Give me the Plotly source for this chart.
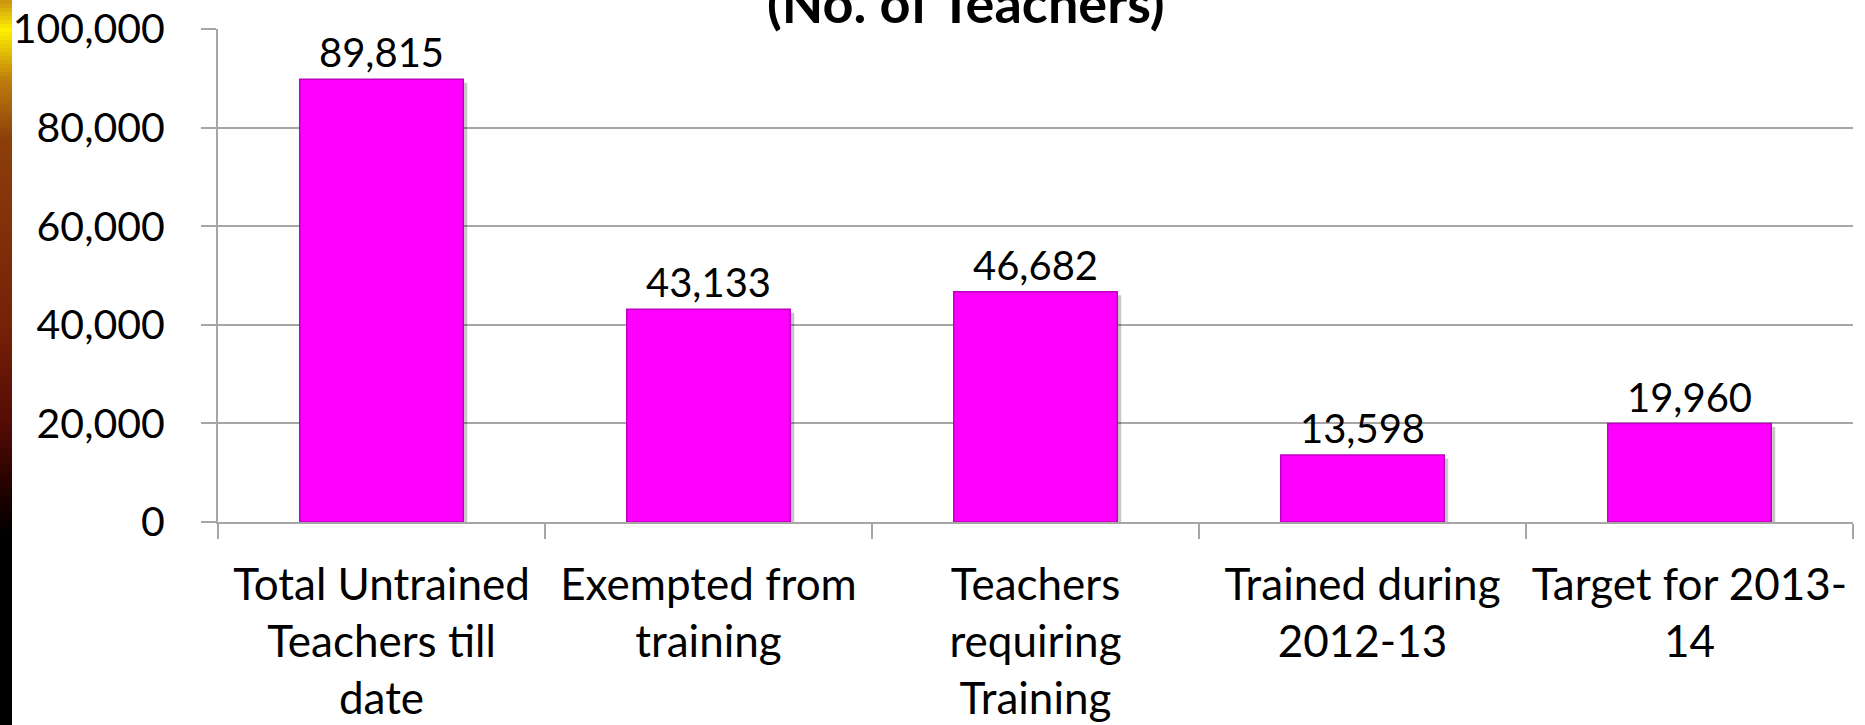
import plotly.graph_objects as go

# ---- data ----
categories = [
    "Total Untrained<br>Teachers till<br>date",
    "Exempted from<br>training",
    "Teachers<br>requiring<br>Training",
    "Trained during<br>2012-13",
    "Target for 2013-<br>14",
]
values = [89815, 43133, 46682, 13598, 19960]
y_tick_values = [0, 20000, 40000, 60000, 80000, 100000]
y_tick_labels = ["0", "20,000", "40,000", "60,000", "80,000", "100,000"]
title_text = "(No. of Teachers)"

# ---- style ----
W, H = 1865, 725
ML, MR, MT, MB = 218, 12, 29, 203
FONT = "Lato"
GRID = "#A6A6A6"

pw = W - ML - MR
ph = H - MT - MB
def px2x(px):
    return (px - ML) / pw
def py2y(py):
    return (H - MB - py) / ph

fig = go.Figure()
# soft drop shadow behind the bars (same values, nudged right/down)
fig.add_trace(go.Bar(
    x=categories, y=values, base=-700,
    width=0.5, offset=-0.25 + 4 / (pw / 5),
    marker=dict(color="rgba(0,0,0,0.22)", line=dict(width=0)),
    hoverinfo="skip",
))
fig.add_trace(go.Bar(
    x=categories, y=values,
    width=0.5, offset=-0.25,
    marker=dict(color="#FF00FF", line=dict(color="#C000C0", width=1.5)),
    texttemplate="%{y:,}", textposition="outside",
    textfont=dict(family=FONT, size=40, color="black"),
    cliponaxis=False,
    hoverinfo="skip",
))

# left decorative gradient strip
stops = [
    (0, (200, 144, 16)), (30, (255, 240, 0)), (80, (190, 125, 12)),
    (140, (140, 62, 10)), (330, (118, 32, 8)), (430, (80, 10, 4)),
    (480, (40, 3, 0)), (535, (0, 0, 0)), (725, (0, 0, 0)),
]
def col_at(py):
    for (a, ca), (b, cb) in zip(stops[:-1], stops[1:]):
        if a <= py <= b:
            t = (py - a) / (b - a) if b > a else 0
            return "rgb(%d,%d,%d)" % tuple(round(ca[i] + (cb[i] - ca[i]) * t) for i in range(3))
    return "rgb(0,0,0)"

shapes = []
step = 4
for py in range(0, H, step):
    shapes.append(dict(type="rect", xref="paper", yref="paper",
                       x0=px2x(0), x1=px2x(12), y0=py2y(py + step + 0.5), y1=py2y(py),
                       fillcolor=col_at(py + step / 2), line=dict(width=0), layer="above"))

fig.update_layout(
    width=W, height=H,
    margin=dict(l=ML, r=MR, t=MT, b=MB, pad=0, autoexpand=False),
    paper_bgcolor="white", plot_bgcolor="white",
    showlegend=False,
    barmode="overlay",
    shapes=shapes,
    font=dict(family=FONT, size=40, color="black"),
    annotations=[dict(
        text="<b>" + title_text + "</b>", xref="paper", yref="paper",
        x=px2x(966), y=1, xanchor="center", yanchor="bottom", yshift=-8,
        showarrow=False, font=dict(family=FONT, size=54, color="black"),
    )],
    xaxis=dict(
        range=[-0.5, 4.5], showline=True, linecolor=GRID, linewidth=2,
        ticks="outside", tickson="boundaries", ticklen=15, tickcolor=GRID, tickwidth=2,
        ticklabelstandoff=23, tickangle=0,
        tickfont=dict(family=FONT, size=44, color="black"),
        showgrid=False, fixedrange=True, automargin=False,
    ),
    yaxis=dict(
        range=[0, 100000], tickvals=y_tick_values, ticktext=y_tick_labels,
        showgrid=True, gridcolor=GRID, gridwidth=2,
        showline=True, linecolor=GRID, linewidth=2,
        ticks="outside", ticklen=15, tickcolor=GRID, tickwidth=2,
        ticklabelstandoff=28,
        tickfont=dict(family=FONT, size=41, color="black"),
        zeroline=False, fixedrange=True, automargin=False,
    ),
)

fig.write_html("out.html", config={"displayModeBar": False},
               post_script="document.body.style.margin='0';document.body.style.overflow='hidden';")
